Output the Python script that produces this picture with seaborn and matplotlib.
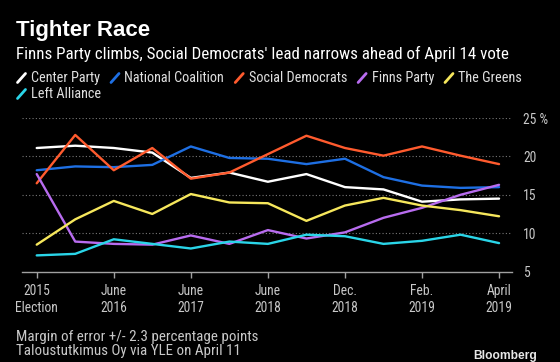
import matplotlib
matplotlib.use("Agg")
import matplotlib.pyplot as plt
from matplotlib.lines import Line2D
from matplotlib import font_manager
import seaborn as sns
import pandas as pd

# ---- data ----
periods = list(range(13))
tick_positions = [0, 2, 4, 6, 8, 10, 12]
tick_labels = ["2015\nElection", "June\n2016", "June\n2017", "June\n2018",
               "Dec.\n2018", "Feb.\n2019", "April\n2019"]
parties = ["Center Party", "National Coalition", "Social Democrats",
           "Finns Party", "The Greens", "Left Alliance"]
center = [21.1, 21.4, 21.1, 20.5, 17.2, 17.9, 16.7, 17.7, 16.0, 15.7, 14.1, 14.4, 14.5]
coalition = [18.2, 18.7, 18.6, 18.9, 21.3, 19.8, 19.7, 19.0, 19.7, 17.3, 16.2, 15.9, 16.0]
social = [16.5, 22.8, 18.2, 21.1, 17.1, 17.9, 20.3, 22.7, 21.1, 20.1, 21.3, 20.1, 19.0]
finns = [17.7, 8.9, 8.6, 8.5, 9.7, 8.6, 10.4, 9.3, 10.1, 12.0, 13.3, 15.0, 16.3]
greens = [8.5, 11.8, 14.2, 12.5, 15.1, 14.0, 13.9, 11.6, 13.6, 14.6, 13.6, 13.0, 12.2]
left = [7.1, 7.3, 9.2, 8.6, 8.0, 8.9, 8.6, 9.8, 9.6, 8.6, 9.0, 9.8, 8.7]
y_ticks = [5, 10, 15, 20, 25]
y_tick_labels = ["5", "10", "15", "20", "25 %"]

colors = ["#ffffff", "#1e6fe3", "#ff5b2e", "#b86cef", "#f6e75c", "#2ad5e8"]

series = [center, coalition, social, finns, greens, left]
df = pd.DataFrame({
    "period": periods * len(parties),
    "value": [v for s in series for v in s],
    "party": [p for p in parties for _ in periods],
})

installed = {f.name for f in font_manager.fontManager.ttflist}
def pick(cands):
    for c in cands:
        if c in installed:
            return c
    return "DejaVu Sans"

NARROW_NAME = pick(["Liberation Sans Narrow", "DejaVu Sans Condensed", "Roboto Condensed",
                    "Open Sans Condensed", "Noto Sans Condensed", "Roboto", "Liberation Sans"])
NARROW = [NARROW_NAME, "DejaVu Sans"]
BOLD = [pick(["Liberation Sans", "Roboto"]), "DejaVu Sans"]
W, H = 560, 362

sns.set_theme(style="dark")
plt.rcParams["font.family"] = NARROW
fig = plt.figure(figsize=(W / 100, H / 100), dpi=100, facecolor="black")
renderer = fig.canvas.get_renderer()

def fit(text, target_px, family=NARROW, weight="normal", ref=20.0):
    t = fig.text(0, 0, text, family=family, weight=weight, fontsize=ref)
    w = t.get_window_extent(renderer).width
    t.remove()
    return ref * target_px / w

ax = fig.add_axes([22 / W, (H - 271.5) / H, (512 - 22) / W, (271.5 - 117.7) / H])
ax.set_facecolor("black")

sns.lineplot(data=df, x="period", y="value", hue="party", hue_order=parties,
             palette=colors, linewidth=1.7, ax=ax, legend=False)

ax.set_xlim(-0.382, 12.336)
ax.set_ylim(5, 25.05)
for s in ["top", "left", "right"]:
    ax.spines[s].set_visible(False)
ax.spines["bottom"].set_color("#a0a0a0")
ax.spines["bottom"].set_linewidth(1.0)
ax.grid(False)
for yv in [10, 15, 20, 25]:
    ax.axhline(yv, color="#777777", linestyle=(0, (1, 2)), linewidth=0.8, zorder=0)

body = fit("National Coalition", 100)
tick_fs = min(fit("Election", 43), 10.5)

ax.set_xticks(tick_positions)
ax.set_xticklabels(tick_labels, color="#c8c8c8", fontsize=tick_fs, linespacing=1.3)
ax.tick_params(axis="x", length=4, width=1, color="#a0a0a0", pad=5, bottom=True)
ax.yaxis.tick_right()
ax.set_yticks(y_ticks)
ax.set_yticklabels(y_tick_labels, color="#c8c8c8", fontsize=tick_fs)
ax.tick_params(axis="y", length=0, pad=8, right=False, left=False)
ax.set_xlabel("")
ax.set_ylabel("")

# ---- header ----
title_fs = fit("Tighter Race", 134, family=BOLD, weight="bold")
fig.text(16 / W, 1 - 36 / H, "Tighter Race", family=BOLD, weight="bold",
         fontsize=title_fs, color="white", va="baseline")
sub = "Finns Party climbs, Social Democrats' lead narrows ahead of April 14 vote"
fig.text(16 / W, 1 - 54 / H, sub, fontsize=fit(sub, 491), color="white", va="center")

# ---- legend (manual, two rows) ----
rows = [(parties[:5], colors[:5], 78), (parties[5:], colors[5:], 94)]
for names, cols, yc in rows:
    x = 17.5
    for name, col in zip(names, cols):
        fig.add_artist(Line2D([x / W, (x + 8) / W],
                              [(H - yc - 4.5) / H, (H - yc + 4.5) / H],
                              transform=fig.transFigure, color=col, linewidth=2))
        t = fig.text((x + 13.5) / W, 1 - yc / H, name, fontsize=body,
                     color="#e0e0e0", va="center")
        bb = t.get_window_extent(renderer)
        x = bb.x1 + 11

# ---- footer ----
foot1 = "Margin of error +/- 2.3 percentage points"
foot_fs = fit(foot1, 240)
fig.text(16 / W, 1 - 337 / H, foot1, fontsize=foot_fs, color="#c8c8c8", va="center")
fig.text(16 / W, 1 - 351.5 / H, "Taloustutkimus Oy via YLE on April 11",
         fontsize=foot_fs, color="#c8c8c8", va="center")
fig.text(537 / W, 1 - 355.5 / H, "Bloomberg", family=BOLD, weight="bold",
         fontsize=fit("Bloomberg", 63, family=BOLD, weight="bold"),
         color="#e8e8e8", va="center", ha="right")

fig.savefig("out.png", dpi=100, facecolor="black")
